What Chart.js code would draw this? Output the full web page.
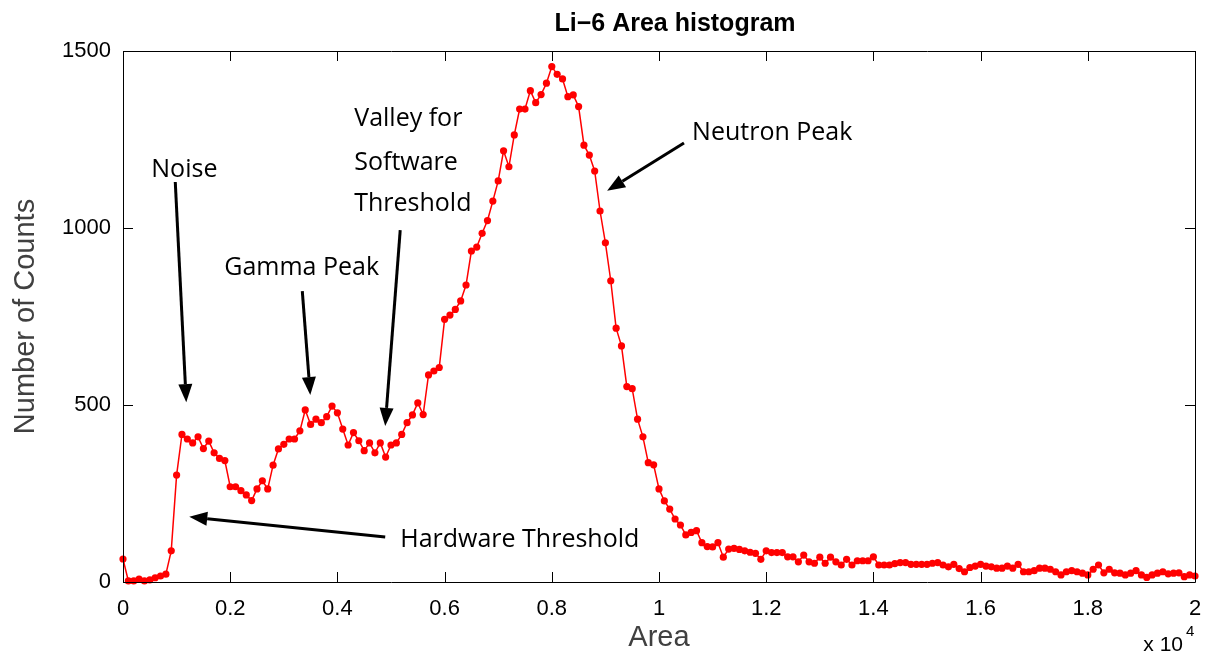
<!DOCTYPE html>
<html>
<head>
<meta charset="utf-8">
<title>Li-6 Area histogram</title>
<script src="https://cdn.jsdelivr.net/npm/chart.js@4.4.1/dist/chart.umd.min.js"></script>
<style>
  html, body { margin: 0; padding: 0; background: #fff; }
  #wrap { width: 1211px; height: 658px; }
</style>
</head>
<body>
<div id="wrap"><canvas id="areaHistogram" width="1211" height="658"></canvas></div>
<script>
// histogram bins, 100 area units wide, starting at 0
const binWidth = 100;
const counts = [
  65, 3, 3, 8, 3, 6, 12, 17, 22, 88, 302, 417, 404, 393, 410, 377, 398, 365, 349, 343,
  269, 269, 258, 246, 230, 263, 286, 263, 330, 376, 389, 404, 404, 427, 486, 445, 460, 450, 467, 497,
  478, 432, 387, 422, 399, 371, 393, 365, 393, 353, 387, 393, 417, 450, 472, 506, 473, 585, 596, 606,
  742, 754, 770, 794, 839, 935, 946, 985, 1021, 1076, 1133, 1218, 1173, 1263, 1336, 1336, 1388, 1354, 1377, 1409,
  1456, 1434, 1421, 1371, 1376, 1343, 1234, 1206, 1161, 1048, 958, 851, 717, 667, 552, 546, 460, 410, 337, 331,
  263, 229, 206, 178, 161, 133, 140, 145, 111, 100, 99, 111, 70, 93, 95, 92, 88, 84, 81, 64,
  88, 83, 83, 83, 71, 71, 57, 76, 57, 53, 70, 53, 70, 57, 48, 64, 48, 60, 60, 60,
  71, 48, 48, 48, 52, 55, 55, 50, 50, 50, 50, 53, 55, 48, 43, 50, 38, 29, 41, 45,
  50, 45, 43, 39, 39, 45, 39, 50, 29, 29, 32, 39, 39, 36, 29, 20, 29, 32, 29, 25,
  20, 36, 48, 26, 36, 26, 25, 20, 25, 32, 20, 13, 20, 25, 29, 23, 25, 26, 15, 20, 17
];

const xTicks = [0, 2000, 4000, 6000, 8000, 10000, 12000, 14000, 16000, 18000, 20000];
const yTicks = [0, 500, 1000, 1500];

// annotation text, anchored at [area, counts] of the text baseline start
const labels = [
  ['Noise', 528, 1145],
  ['Gamma Peak', 1889, 866],
  ['Valley for', 4314, 1287],
  ['Software', 4314, 1165],
  ['Threshold', 4314, 1047],
  ['Neutron Peak', 10617, 1250],
  ['Hardware Threshold', 5172, 100]
];

// arrows as [fromArea, fromCounts, toArea, toCounts]
const arrows = [
  [975, 1130, 1180, 508],
  [3345, 822, 3494, 528],
  [5172, 994, 4892, 441],
  [10466, 1240, 9032, 1105],
  [4892, 127, 1236, 184]
];

const titleText = 'Li\u22126 Area histogram';

Chart.defaults.font.family = "'Liberation Sans', Arial, sans-serif";
Chart.defaults.color = '#000';

function drawArrow(ctx, x0, y0, x1, y1) {
  const ang = Math.atan2(y1 - y0, x1 - x0);
  const headLen = 18, headHalf = 7;
  const bx = x1 - headLen * Math.cos(ang);
  const by = y1 - headLen * Math.sin(ang);
  ctx.beginPath();
  ctx.moveTo(x0, y0);
  ctx.lineTo(bx, by);
  ctx.stroke();
  ctx.beginPath();
  ctx.moveTo(x1, y1);
  ctx.lineTo(bx + headHalf * Math.sin(ang), by - headHalf * Math.cos(ang));
  ctx.lineTo(bx - headHalf * Math.sin(ang), by + headHalf * Math.cos(ang));
  ctx.closePath();
  ctx.fill();
}

// title, box with inward ticks on all four sides, the x10^4 exponent and the notes
const framePlugin = {
  id: 'frame',
  afterDraw(chart) {
    const { ctx, chartArea: a, scales: { x, y } } = chart;
    const tick = 10;
    ctx.save();
    ctx.strokeStyle = '#000';
    ctx.lineWidth = 1;
    ctx.beginPath();
    ctx.rect(Math.round(a.left) + 0.5, Math.round(a.top) + 0.5,
             Math.round(a.right - a.left), Math.round(a.bottom - a.top));
    xTicks.forEach(v => {
      const px = Math.round(x.getPixelForValue(v)) + 0.5;
      ctx.moveTo(px, a.bottom);
      ctx.lineTo(px, a.bottom - tick);
      ctx.moveTo(px, a.top);
      ctx.lineTo(px, a.top + tick);
    });
    yTicks.forEach(v => {
      const py = Math.round(y.getPixelForValue(v)) + 0.5;
      ctx.moveTo(a.left, py);
      ctx.lineTo(a.left + tick, py);
      ctx.moveTo(a.right, py);
      ctx.lineTo(a.right - tick, py);
    });
    ctx.stroke();

    ctx.fillStyle = '#000';
    ctx.textBaseline = 'alphabetic';
    ctx.textAlign = 'center';
    ctx.font = "bold 25px 'Liberation Sans', Arial, sans-serif";
    ctx.fillText(titleText, (a.left + a.right) / 2 + 16, 31);

    // exponent under the right end of the x axis
    ctx.textAlign = 'right';
    ctx.font = "21px 'Liberation Sans', Arial, sans-serif";
    ctx.fillText('x 10', a.right - 12, a.bottom + 69);
    ctx.textAlign = 'left';
    ctx.font = "15px 'Liberation Sans', Arial, sans-serif";
    ctx.fillText('4', a.right - 9, a.bottom + 54);

    ctx.font = "25px 'Open Sans', 'Noto Sans', sans-serif";
    labels.forEach(([text, lx, ly]) => {
      ctx.fillText(text, x.getPixelForValue(lx), y.getPixelForValue(ly));
    });

    ctx.lineWidth = 3;
    arrows.forEach(([x0, y0, x1, y1]) => {
      drawArrow(ctx, x.getPixelForValue(x0), y.getPixelForValue(y0),
                x.getPixelForValue(x1), y.getPixelForValue(y1));
    });
    ctx.restore();
  }
};

const areaHistogram = document.getElementById('areaHistogram');

const data = {
  datasets: [{
    data: counts.map((c, i) => ({ x: i * binWidth, y: c })),
    borderColor: '#ff0000',
    backgroundColor: '#ff0000',
    borderWidth: 1.5,
    pointRadius: 3.6,
    pointBorderWidth: 0,
    pointBackgroundColor: '#ff0000',
    tension: 0,
    clip: false
  }]
};

const options = {
  responsive: false,
  animation: false,
  layout: {
    padding: { left: 0, right: 16, top: 51, bottom: 0 }
  },
  plugins: {
    legend: { display: false },
    tooltip: { enabled: false },
    title: { display: false }
  },
  scales: {
    x: {
      type: 'linear',
      min: 0,
      max: 20000,
      afterBuildTicks: s => { s.ticks = xTicks.map(v => ({ value: v })); },
      afterFit: s => { s.height = 76; },
      grid: { display: false },
      border: { display: false },
      ticks: {
        callback: v => String(v / 1e4),
        font: { size: 22 },
        color: '#000',
        padding: 6,
        maxRotation: 0,
        autoSkip: false
      },
      title: {
        display: true,
        text: 'Area',
        font: { size: 29 },
        color: '#404040',
        padding: { top: 0, bottom: 3 }
      }
    },
    y: {
      min: 0,
      max: 1500,
      afterBuildTicks: s => { s.ticks = yTicks.map(v => ({ value: v })); },
      afterFit: s => { s.width = 123; },
      grid: { display: false },
      border: { display: false },
      ticks: {
        callback: v => String(v),
        font: { size: 22 },
        color: '#000',
        padding: 4
      },
      title: {
        display: true,
        text: 'Number of Counts',
        font: { size: 29 },
        color: '#404040',
        padding: { top: 9, bottom: 0 }
      }
    }
  }
};

new Chart(areaHistogram, {
  type: 'line',
  data,
  options,
  plugins: [framePlugin]
});
</script>
</body>
</html>
